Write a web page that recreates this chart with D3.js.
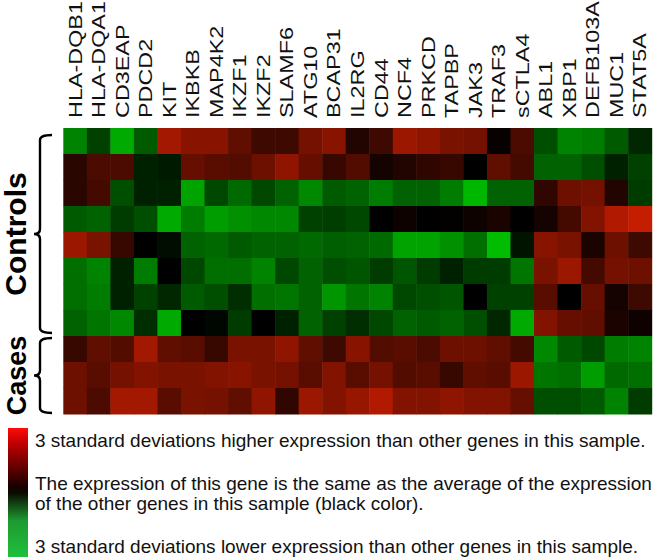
<!DOCTYPE html>
<html>
<head>
<meta charset="utf-8">
<script src="https://cdn.jsdelivr.net/npm/d3@7"></script>
<style>
  body { margin: 0; background: #fff; }
  svg { display: block; font-family: "Liberation Sans", Arial, sans-serif; }
</style>
</head>
<body>
<div id="chart"></div>
<script>
// genler (sütunlar)
const genes = ["HLA-DQB1", "HLA-DQA1", "CD3EAP", "PDCD2", "KIT", "IKBKB", "MAP4K2", "IKZF1", "IKZF2",
  "SLAMF6", "ATG10", "BCAP31", "IL2RG", "CD44", "NCF4", "PRKCD", "TAPBP", "JAK3", "TRAF3", "sCTLA4",
  "ABL1", "XBP1", "DEFB103A", "MUC1", "STAT5A"];

// örnekler (satırlar)
const samples = ["C1", "C2", "C3", "C4", "C5", "C6", "C7", "C8", "K1", "K2", "K3"];

// gruplar
const groups = ["Controls", "Cases"];
const groupSize = [8, 3];

// standart sapma cinsinden ifade değerleri, her satır bir örnek
const expression = [
  [-2.0, -1.0, -2.6, -1.4, 2.4, 2.0, 2.0, 1.4, 0.9, 0.9, 1.7, 2.0, 0.5, 0.9, 2.3, 2.1, 1.8, 1.7, 0.1, 1.1, -1.2, -2.0, -1.9, -1.4, -0.6],
  [0.6, 1.1, 1.1, -0.5, -0.4, 1.5, 1.3, 1.2, 1.6, 2.1, 1.5, 0.8, 1.2, 0.3, 0.5, 0.7, 0.8, 0.0, 1.4, 1.0, -1.5, -1.5, -1.2, -0.5, -1.0],
  [0.6, 1.0, -1.2, -0.5, -0.5, -2.5, -1.1, -1.6, -1.1, -1.5, -2.1, -1.4, -1.5, -1.9, -1.5, -1.5, -1.9, -2.8, -1.5, -1.5, 0.7, 1.6, 1.7, 0.5, -0.9],
  [-1.4, -1.5, -0.9, -1.2, -2.6, -1.9, -2.4, -2.2, -2.1, -2.1, -1.0, -0.95, -1.1, 0.0, 0.2, 0.0, 0.05, 0.2, 0.4, 0.0, 0.3, 1.0, 1.9, 2.6, 2.9],
  [2.3, 1.8, 0.8, 0.0, -0.2, -1.5, -1.6, -1.4, -1.5, -1.5, -1.6, -1.45, -1.5, -1.6, -2.5, -2.5, -2.2, -1.7, -2.9, -0.3, 2.0, 1.8, 0.4, 1.6, 0.9],
  [-1.7, -2.0, -0.5, -1.9, 0.0, -1.1, -1.7, -1.7, -2.0, -1.1, -1.5, -1.2, -1.3, -0.9, -1.3, -0.9, -0.5, -0.9, -0.9, -1.8, 1.8, 2.3, 1.0, 1.7, 1.6],
  [-1.7, -1.9, -0.5, -1.0, -0.6, -1.4, -1.2, -0.7, -1.7, -1.8, -1.5, -2.3, -1.8, -2.0, -1.1, -1.2, -1.3, 0.0, -1.0, -1.0, 1.3, 0.0, 1.5, 0.3, 0.9],
  [-1.5, -1.8, -2.1, -0.7, -2.6, 0.0, -0.1, -0.9, 0.0, -0.5, -1.5, -1.0, -0.7, -1.1, -1.5, -1.4, -1.5, -1.2, -0.6, -2.6, 1.9, 1.5, 1.4, 0.4, 0.2],
  [0.8, 1.4, 1.2, 2.4, 1.4, 1.3, 0.8, 1.8, 1.8, 2.1, 1.4, 0.9, 2.0, 1.2, 1.3, 1.1, 1.6, 1.6, 1.4, 1.0, -2.1, -1.4, -1.1, -1.9, -2.0],
  [1.6, 1.3, 1.7, 1.9, 1.8, 1.8, 1.9, 2.0, 1.8, 1.7, 1.3, 1.9, 1.3, 1.7, 1.2, 1.3, 0.8, 1.4, 1.3, 2.3, -1.8, -1.7, -2.4, -1.6, -1.7],
  [1.6, 1.1, 2.4, 2.4, 1.3, 1.8, 1.7, 1.4, 2.1, 0.7, 2.3, 1.9, 2.2, 2.6, 1.9, 1.9, 2.1, 1.9, 1.9, 1.5, -1.2, -1.2, -1.4, -2.0, -0.9]
];

// açıklama metinleri
const legendLines = [
  "3 standard deviations higher expression than other genes in this sample.",
  "The expression of this gene is the same as the average of the expression",
  "of the other genes in this sample (black color).",
  "3 standard deviations lower expression than other genes in this sample."
];

const width = 660, height = 560;
const grid = { left: 63.3, right: 651.7, top: 128, bottom: 414 };

const svg = d3.select("#chart").append("svg")
  .attr("width", width)
  .attr("height", height);

// ölçekler
const x = d3.scaleBand().domain(genes).range([grid.left, grid.right]);
const y = d3.scaleBand().domain(samples).range([grid.top, grid.bottom]);
const color = d3.scaleLinear()
  .domain([-3, 0, 3])
  .range(["#00c400", "#000000", "#cc1e00"])
  .clamp(true);

// hücreler
const cells = [];
expression.forEach((row, i) => row.forEach((v, j) => cells.push({ s: samples[i], g: genes[j], v })));

svg.append("g")
  .selectAll("rect")
  .data(cells)
  .join("rect")
  .attr("x", d => x(d.g))
  .attr("y", d => y(d.s))
  .attr("width", x.bandwidth() + 0.5)
  .attr("height", y.bandwidth() + 0.5)
  .attr("fill", d => color(d.v));

// gen etiketleri (dikey, biraz uzatılmış)
svg.append("g")
  .selectAll("text")
  .data(genes)
  .join("text")
  .attr("transform", d => `translate(${x(d) + x.bandwidth() / 2 + 6.5},118) rotate(-90) scale(1.3,1)`)
  .attr("font-size", 18)
  .attr("fill", "#111")
  .text(d => d);

// grup parantezleri
function brace(y0, y1) {
  const xm = 40, xr = 52, xt = 34, ym = (y0 + y1) / 2, c = 5;
  return `M${xr},${y0} Q${xm},${y0} ${xm},${y0 + c} L${xm},${ym - c} Q${xm},${ym} ${xt},${ym}` +
    ` Q${xm},${ym} ${xm},${ym + c} L${xm},${y1 - c} Q${xm},${y1} ${xr},${y1}`;
}

const braceInset = [[7, 3], [2, 1]];
let start = 0;
groups.forEach((g, i) => {
  const y0 = y(samples[start]);
  const y1 = y(samples[start + groupSize[i] - 1]) + y.bandwidth();
  start += groupSize[i];
  const top = y0 + braceInset[i][0];
  const bot = y1 - braceInset[i][1];
  svg.append("path")
    .attr("d", brace(top, bot))
    .attr("fill", "none")
    .attr("stroke", "#000")
    .attr("stroke-width", 2.4);
  svg.append("text")
    .attr("transform", `translate(26,${(top + bot) / 2}) rotate(-90)`)
    .attr("text-anchor", "middle")
    .attr("font-size", i === 0 ? 30 : 27)
    .attr("font-weight", "bold")
    .text(g);
});

// renk açıklaması
const defs = svg.append("defs");
const grad = defs.append("linearGradient")
  .attr("id", "legendGrad")
  .attr("x1", 0).attr("y1", 0).attr("x2", 0).attr("y2", 1);
[[0, "#ff0a0a"], [0.12, "#c00000"], [0.45, "#1a0000"], [0.5, "#0a0a00"], [0.72, "#1e9a30"], [1, "#20c03c"]]
  .forEach(([o, c]) => grad.append("stop").attr("offset", o).attr("stop-color", c));

svg.append("rect")
  .attr("x", 8).attr("y", 428)
  .attr("width", 20).attr("height", 129)
  .attr("fill", "url(#legendGrad)");

const legendY = [447, 490, 510, 553];
svg.append("g")
  .selectAll("text")
  .data(legendLines)
  .join("text")
  .attr("x", 35)
  .attr("y", (d, i) => legendY[i])
  .attr("font-size", 19)
  .attr("fill", "#111")
  .text(d => d);
</script>
</body>
</html>
